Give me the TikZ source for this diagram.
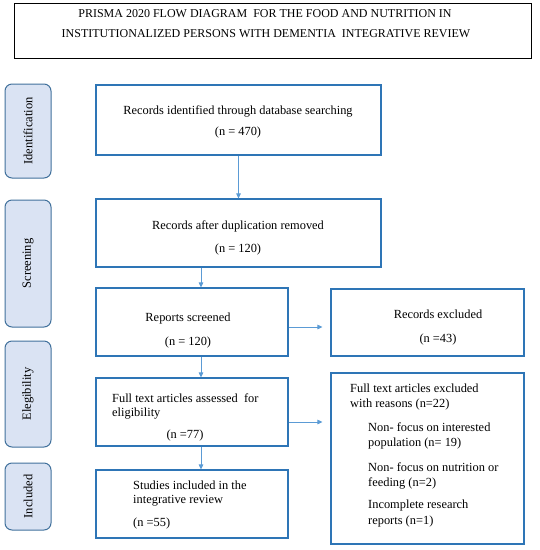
\documentclass[tikz,border=0pt]{standalone}
\usepackage{fontspec}
\setmainfont{Liberation Serif}
\usetikzlibrary{arrows.meta}
\definecolor{boxblue}{HTML}{2E75B6}
\definecolor{arrblue}{HTML}{5B9BD5}
\definecolor{tabfill}{HTML}{DAE3F3}
\definecolor{tabline}{HTML}{41719C}
\begin{document}
\begin{tikzpicture}[x=1pt,y=-1pt,
  box/.style={draw=boxblue,line width=1.1pt,inner sep=0pt},
  tab/.style={draw=tabline,fill=tabfill,line width=1pt,rounded corners=7pt,inner sep=0pt,minimum width=46pt},
  tabtxt/.style={rotate=90,font=\fontsize{12.5}{14}\selectfont},
  txt/.style={font=\fontsize{12.4}{14}\selectfont,inner sep=0pt},
  ltxt/.style={txt,anchor=west},
  ttl/.style={font=\fontsize{12}{14}\selectfont,inner sep=0pt},
  arr/.style={draw=arrblue,line width=0.9pt,-{Triangle[length=5pt,width=4.5pt]}}]
\useasboundingbox (0,0) rectangle (540,550);
% title
\node[draw=black,line width=0.8pt,minimum width=517pt,minimum height=55pt,inner sep=0pt] (title) at (272.5,30.5) {};
\node[ttl] (t1) at (265,14) {PRISMA 2020 FLOW DIAGRAM\ \ FOR THE FOOD AND NUTRITION IN};
\node[ttl] (t2) at (266,34) {INSTITUTIONALIZED PERSONS WITH DEMENTIA\ \ INTEGRATIVE REVIEW};
% tabs
\node[tab,minimum height=94pt] (tid) at (28,131) {};
\node[tabtxt] (tidt) at (tid.center) {Identification};
\node[tab,minimum height=127pt] (tsc) at (28,263.5) {};
\node[tabtxt] (tsct) at (tsc.center) {Screening};
\node[tab,minimum height=106pt] (tel) at (28,394) {};
\node[tabtxt] (telt) at (tel.center) {Elegibility};
\node[tab,minimum height=67pt] (tin) at (28,496.5) {};
\node[tabtxt] (tint) at (tin.center) {Included};
% main boxes
\node[box,minimum width=285pt,minimum height=70pt] (b1) at (238.5,120) {};
\node[txt] (b1a) at (238,111) {Records identified through database searching};
\node[txt] (b1b) at (238,133) {(n = 470)};
\node[box,minimum width=285pt,minimum height=68pt] (b2) at (238.5,233) {};
\node[txt] (b2a) at (238,226) {Records after duplication removed};
\node[txt] (b2b) at (238,250) {(n = 120)};
\node[box,minimum width=192pt,minimum height=68pt] (b3) at (192,322) {};
\node[txt] (b3a) at (188,319) {Reports screened};
\node[txt] (b3b) at (188,343) {(n = 120)};
\node[box,minimum width=192pt,minimum height=68pt] (b4) at (192,412) {};
\node[ltxt] (b4a) at (112,398) {Full text articles assessed\ \ for};
\node[ltxt] (b4b) at (112,414) {eligibility};
\node[txt] (b4c) at (185,436) {(n =77)};
\node[box,minimum width=192pt,minimum height=68pt] (b5) at (192,504) {};
\node[ltxt] (b5a) at (133,485) {Studies included in the};
\node[ltxt] (b5b) at (133,501) {integrative review};
\node[ltxt] (b5c) at (133,524) {(n =55)};
% exclusion boxes
\node[box,minimum width=193pt,minimum height=67pt] (e1) at (427.5,322.5) {};
\node[txt] (e1a) at (438,314) {Records excluded};
\node[txt] (e1b) at (438,340) {(n =43)};
\node[box,minimum width=193pt,minimum height=171pt] (e2) at (427.5,458.5) {};
\node[ltxt] (e2a) at (350,388) {Full text articles excluded};
\node[ltxt] (e2b) at (350,405) {with reasons (n=22)};
\node[ltxt] (e2c) at (368,427) {Non- focus on interested};
\node[ltxt] (e2d) at (368,444) {population (n= 19)};
\node[ltxt] (e2e) at (368,467) {Non- focus on nutrition or};
\node[ltxt] (e2f) at (368,483) {feeding (n=2)};
\node[ltxt] (e2g) at (368,506) {Incomplete research};
\node[ltxt] (e2h) at (368,522) {reports (n=1)};
% arrows
\coordinate (ax) at (201,0);
\coordinate (ay1) at (0,327);
\coordinate (ay2) at (0,422);
\draw[arr] (b1.south) -- (b2.north);
\draw[arr] (b2.south -| ax) -- (b3.north -| ax);
\draw[arr] (b3.south -| ax) -- (b4.north -| ax);
\draw[arr] (b4.south -| ax) -- (b5.north -| ax);
\draw[arr] (b3.east |- ay1) -- ([xshift=-8pt]e1.west |- ay1);
\draw[arr] (b4.east |- ay2) -- ([xshift=-8pt]e2.west |- ay2);
\end{tikzpicture}
\end{document}
